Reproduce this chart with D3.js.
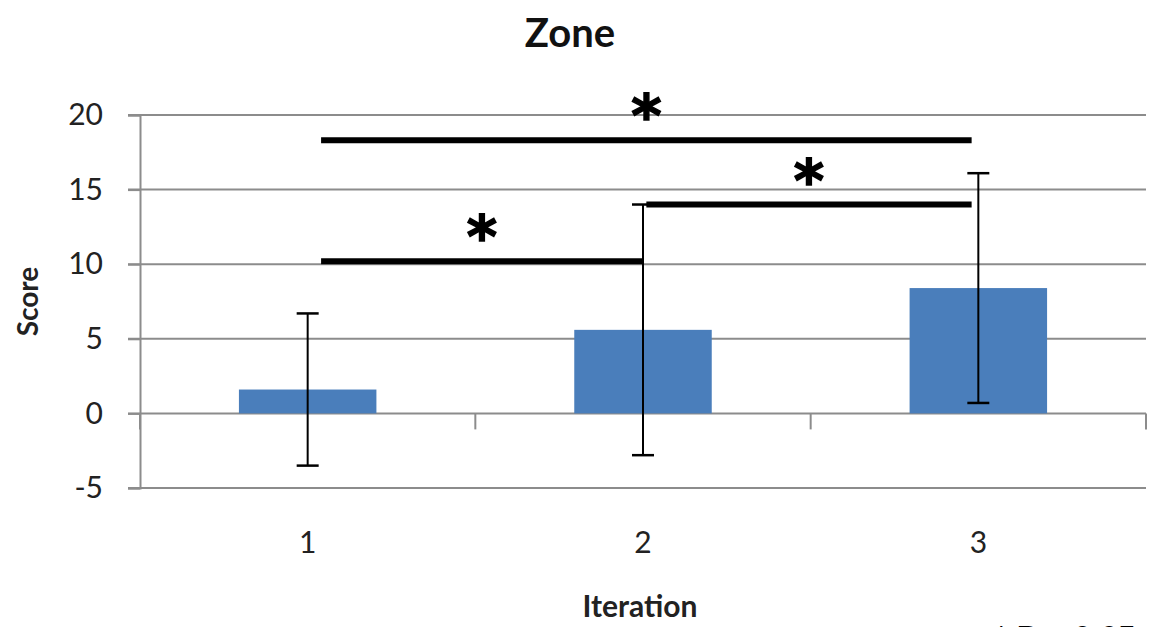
<!DOCTYPE html>
<html>
<head>
<meta charset="utf-8">
<script src="https://cdn.jsdelivr.net/npm/d3@7"></script>
<style>
  body { margin: 0; background: #fff; overflow: hidden; }
  svg { display: block; }
</style>
</head>
<body>
<div id="chart"></div>
<script>
// data
var categories = ["1", "2", "3"];
var means = [1.6, 5.6, 8.4];
var errors = [5.1, 8.4, 7.7];
var yTicks = [-5, 0, 5, 10, 15, 20];
// significance brackets: [from, to] in category units, level in score units
var sigFrom = [1.04, 2.01, 1.04];
var sigTo = [2.0, 2.98, 2.98];
var sigLevel = [10.2, 14.0, 18.3];

var width = 1159, height = 627;
var margin = { top: 115, right: 13, bottom: 139, left: 140 };
var innerW = width - margin.left - margin.right,
    innerH = height - margin.top - margin.bottom;

var svg = d3.select("#chart").append("svg")
  .attr("width", width)
  .attr("height", height);

var g = svg.append("g")
  .attr("transform", "translate(" + margin.left + "," + margin.top + ")");

var y = d3.scaleLinear().domain([-5, 20]).range([innerH, 0]);
var x = d3.scaleBand().domain(categories).range([0, innerW]).paddingInner(0.59).paddingOuter(0.295);
// continuous version of the category axis, for the brackets
var xc = d3.scaleLinear().domain([0.5, 3.5]).range([0, innerW]);

var font = "Lato, 'Open Sans', sans-serif";

// gridlines
g.selectAll(".grid")
  .data(yTicks)
  .enter().append("line")
  .attr("x1", -12)
  .attr("x2", innerW)
  .attr("y1", function (d) { return y(d); })
  .attr("y2", function (d) { return y(d); })
  .attr("stroke", "#8c8c8c")
  .attr("stroke-width", 2);

// y axis
var yAxis = g.append("g")
  .call(d3.axisLeft(y).tickValues(yTicks).tickSize(12).tickPadding(25)
    .tickFormat(function (d) { return String(d); }));
yAxis.select(".domain").attr("stroke", "#8c8c8c").attr("stroke-width", 2);
yAxis.selectAll(".tick line").attr("stroke", "#8c8c8c").attr("stroke-width", 2);
yAxis.selectAll(".tick text")
  .attr("font-family", font)
  .attr("font-size", 30)
  .attr("fill", "#222");

// x axis on the zero line
var xAxis = g.append("g")
  .attr("transform", "translate(0," + y(0) + ")")
  .call(d3.axisBottom(x).tickSize(0).tickPadding(118));
xAxis.select(".domain").remove();
xAxis.selectAll(".tick text")
  .attr("font-family", font)
  .attr("font-size", 30)
  .attr("fill", "#222");

// category boundary ticks
g.selectAll(".ctick")
  .data(d3.range(categories.length + 1))
  .enter().append("line")
  .attr("x1", function (d) { return xc(d + 0.5); })
  .attr("x2", function (d) { return xc(d + 0.5); })
  .attr("y1", y(0))
  .attr("y2", y(0) + 16)
  .attr("stroke", "#8c8c8c")
  .attr("stroke-width", 2);

// bars
g.selectAll(".bar")
  .data(means)
  .enter().append("rect")
  .attr("x", function (d, i) { return x(categories[i]); })
  .attr("width", x.bandwidth())
  .attr("y", function (d) { return y(Math.max(0, d)); })
  .attr("height", function (d) { return Math.abs(y(d) - y(0)); })
  .attr("fill", "#4a7ebb");

// error bars
var eb = g.selectAll(".err")
  .data(means)
  .enter().append("g");
eb.append("line")
  .attr("x1", function (d, i) { return x(categories[i]) + x.bandwidth() / 2; })
  .attr("x2", function (d, i) { return x(categories[i]) + x.bandwidth() / 2; })
  .attr("y1", function (d, i) { return y(d + errors[i]); })
  .attr("y2", function (d, i) { return y(d - errors[i]); })
  .attr("stroke", "#000")
  .attr("stroke-width", 2);
[1, -1].forEach(function (s) {
  eb.append("line")
    .attr("x1", function (d, i) { return x(categories[i]) + x.bandwidth() / 2 - 11; })
    .attr("x2", function (d, i) { return x(categories[i]) + x.bandwidth() / 2 + 11; })
    .attr("y1", function (d, i) { return y(d + s * errors[i]); })
    .attr("y2", function (d, i) { return y(d + s * errors[i]); })
    .attr("stroke", "#000")
    .attr("stroke-width", 2.5);
});

// significance brackets
var sig = g.selectAll(".sig")
  .data(sigLevel)
  .enter().append("g");
sig.append("line")
  .attr("x1", function (d, i) { return xc(sigFrom[i]); })
  .attr("x2", function (d, i) { return xc(sigTo[i]); })
  .attr("y1", function (d) { return y(d); })
  .attr("y2", function (d) { return y(d); })
  .attr("stroke", "#000")
  .attr("stroke-width", 6);
sig.append("text")
  .attr("x", function (d, i) { return xc((sigFrom[i] + sigTo[i]) / 2); })
  .attr("y", function (d) { return y(d) - 4; })
  .attr("text-anchor", "middle")
  .attr("font-family", "'DejaVu Sans', sans-serif")
  .attr("font-weight", "bold")
  .attr("font-size", 58)
  .attr("stroke", "#000")
  .attr("stroke-width", 1.5)
  .text("*");

// title
svg.append("text")
  .attr("x", 570)
  .attr("y", 47)
  .attr("text-anchor", "middle")
  .attr("font-family", font)
  .attr("font-weight", "bold")
  .attr("font-size", 40)
  .attr("fill", "#111")
  .text("Zone");

// axis titles
svg.append("text")
  .attr("x", margin.left + innerW / 2 - 3)
  .attr("y", 617)
  .attr("text-anchor", "middle")
  .attr("font-family", font)
  .attr("font-weight", "bold")
  .attr("font-size", 30)
  .attr("fill", "#222")
  .text("Iteration");

svg.append("text")
  .attr("transform", "translate(38," + (margin.top + y(7.5)) + ") rotate(-90)")
  .attr("text-anchor", "middle")
  .attr("font-family", font)
  .attr("font-weight", "bold")
  .attr("font-size", 28)
  .attr("fill", "#222")
  .text("Score");

// footnote, cut off at the bottom edge like the original
svg.append("text")
  .attr("x", 995)
  .attr("y", 648)
  .attr("font-family", "'Liberation Sans', sans-serif")
  .attr("font-size", 32)
  .attr("fill", "#000")
  .text("* P < 0.05");
</script>
</body>
</html>
